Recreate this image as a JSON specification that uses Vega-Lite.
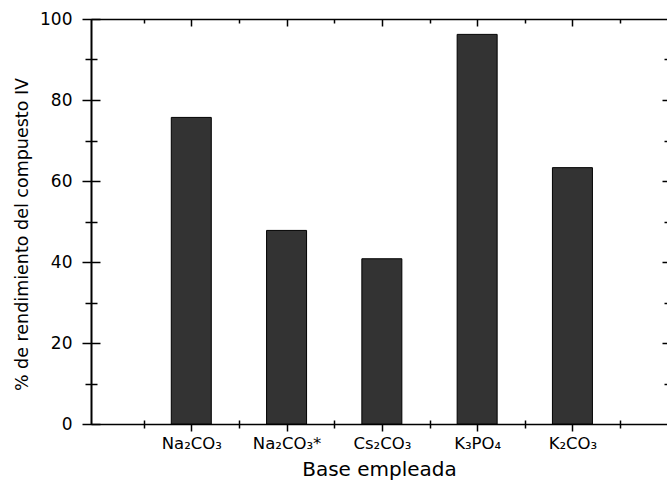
{
  "$schema": "https://vega.github.io/schema/vega-lite/v6.json",
  "width": 576,
  "height": 405,
  "autosize": {"type": "none"},
  "padding": {"left": 91, "top": 19, "right": 0, "bottom": 60},
  "background": "white",
  "config": {
    "view": {"stroke": null},
    "axis": {
      "labelFont": "DejaVu Sans",
      "titleFont": "DejaVu Sans",
      "labelColor": "black",
      "titleColor": "black",
      "domainColor": "black",
      "tickColor": "black",
      "grid": false,
      "titleFontWeight": "normal",
      "labelOverlap": false,
      "labelFlush": false,
      "labelBound": false
    }
  },
  "data": {
    "values": [
      {"idx": 1, "base": "Na₂CO₃", "rendimiento": 75.7},
      {"idx": 2, "base": "Na₂CO₃*", "rendimiento": 47.8},
      {"idx": 3, "base": "Cs₂CO₃", "rendimiento": 40.8},
      {"idx": 4, "base": "K₃PO₄", "rendimiento": 96.2},
      {"idx": 5, "base": "K₂CO₃", "rendimiento": 63.3}
    ]
  },
  "resolve": {"axis": {"x": "independent", "y": "independent"}},
  "layer": [
    {
      "mark": {"type": "bar", "size": 40, "fill": "#333333", "stroke": "black", "strokeWidth": 1},
      "encoding": {
        "x": {
          "field": "idx",
          "type": "quantitative",
          "scale": {"domain": [0, 5.94], "nice": false, "zero": false},
          "axis": {
            "orient": "bottom",
            "values": [0.5, 1, 1.5, 2, 2.5, 3, 3.5, 4, 4.5, 5, 5.5],
            "labelExpr": "datum.value == 1 ? 'Na₂CO₃' : datum.value == 2 ? 'Na₂CO₃*' : datum.value == 3 ? 'Cs₂CO₃' : datum.value == 4 ? 'K₃PO₄' : datum.value == 5 ? 'K₂CO₃' : ''",
            "title": "Base empleada",
            "domain": true,
            "domainWidth": 1.5,
            "tickSize": 7,
            "tickWidth": 1.5,
            "labelPadding": 4,
            "labelFontSize": 16.5,
            "titleFontSize": 20,
            "titlePadding": 8,
            "encoding": {
              "ticks": {
                "y": {"condition": {"test": "datum.value % 1 === 0", "value": 0}, "value": -4},
                "y2": {"condition": {"test": "datum.value % 1 === 0", "value": 7}, "value": 4}
              }
            }
          }
        },
        "y": {
          "field": "rendimiento",
          "type": "quantitative",
          "scale": {"domain": [0, 100], "nice": false},
          "axis": {
            "orient": "left",
            "values": [0, 10, 20, 30, 40, 50, 60, 70, 80, 90, 100],
            "labelExpr": "datum.value % 20 === 0 ? datum.label : ''",
            "title": "% de rendimiento del compuesto IV",
            "domain": true,
            "domainWidth": 2,
            "tickSize": 9,
            "tickWidth": 1.5,
            "labelPadding": 10,
            "labelFontSize": 17,
            "titleFontSize": 17.5,
            "titleX": -69,
            "titleY": 215,
            "titleBaseline": "middle",
            "encoding": {
              "ticks": {
                "x": {"condition": {"test": "datum.value % 20 === 0", "value": 9}, "value": 6},
                "x2": {"condition": {"test": "datum.value % 20 === 0", "value": -9}, "value": -6}
              }
            }
          }
        }
      }
    },
    {
      "mark": {"type": "bar", "size": 40, "opacity": 0},
      "encoding": {
        "x": {
          "field": "idx",
          "type": "quantitative",
          "axis": {
            "orient": "top",
            "values": [0.5, 1, 1.5, 2, 2.5, 3, 3.5, 4, 4.5, 5, 5.5],
            "labels": false,
            "title": null,
            "domain": true,
            "domainWidth": 1.5,
            "tickWidth": 1.5,
            "encoding": {
              "ticks": {
                "y": {"value": 0},
                "y2": {"condition": {"test": "datum.value % 1 === 0", "value": 7}, "value": 4}
              }
            }
          }
        },
        "y": {
          "field": "rendimiento",
          "type": "quantitative",
          "axis": {
            "orient": "right",
            "values": [10, 20, 30, 40, 50, 60, 70, 80, 90],
            "labels": false,
            "title": null,
            "domain": false,
            "tickWidth": 1.5,
            "encoding": {
              "ticks": {
                "x": {"value": 0},
                "x2": {"condition": {"test": "datum.value % 20 === 0", "value": -5}, "value": -3}
              }
            }
          }
        }
      }
    }
  ]
}
